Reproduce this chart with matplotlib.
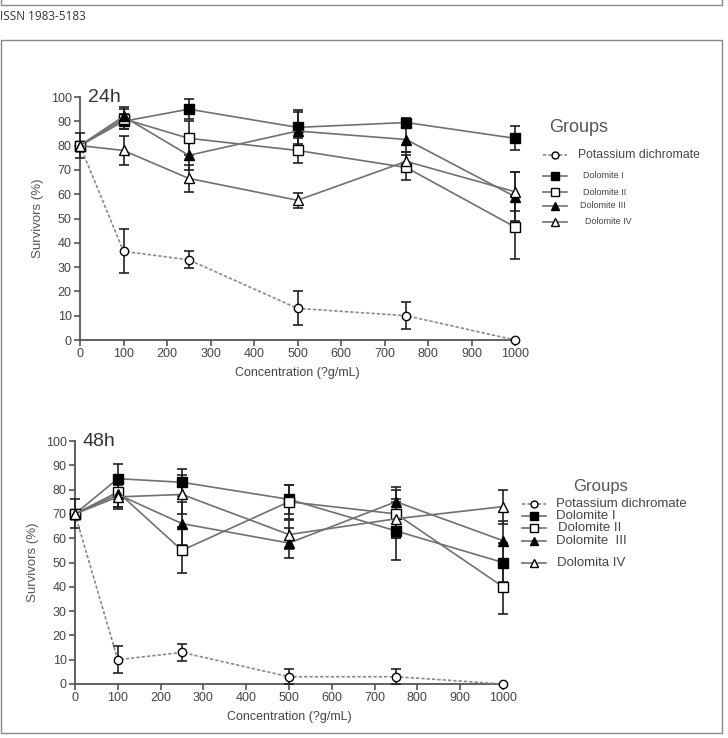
import matplotlib
matplotlib.use("Agg")
import matplotlib.pyplot as plt
from matplotlib.lines import Line2D
from matplotlib.patches import Rectangle

plt.rcParams["font.family"] = ["Liberation Sans", "DejaVu Sans"]

conc = [0, 100, 250, 500, 750, 1000]
groups_24h = ["Potassium dichromate", "Dolomite I", "Dolomite II", "Dolomite III", "Dolomite IV"]
groups_48h = ["Potassium dichromate", "Dolomite I", "Dolomite II", "Dolomite  III", "Dolomita IV"]

# 24h survivors (%) and error
pot_24 = [80, 36.5, 33, 13, 10, 0]
pot_24_err = [0, 9, 3.5, 7, 5.5, 0]
dol1_24 = [80, 90, 95, 87.5, 89.5, 83]
dol1_24_err = [0, 3, 4, 7, 2, 5]
dol2_24 = [80, 91, 83, 78, 71, 46.5]
dol2_24_err = [0, 4, 7, 5, 5, 13]
dol3_24 = [80, 92, 76, 86, 82.5, 59]
dol3_24_err = [0, 4, 6, 8, 5, 10]
dol4_24 = [80, 78, 66.5, 57.5, 73.5, 61]
dol4_24_err = [5, 6, 5.5, 3, 4, 8]

# 48h survivors (%) and error
pot_48 = [70, 10, 13, 3, 3, 0]
pot_48_err = [0, 5.5, 3.5, 3, 3, 0]
dol1_48 = [70, 84.5, 83, 76, 63, 50]
dol1_48_err = [0, 6, 5.5, 6, 12, 8]
dol2_48 = [70, 79, 55, 75, 70, 40]
dol2_48_err = [0, 6, 9.5, 7, 10, 11]
dol3_48 = [70, 78, 66, 58, 75, 59]
dol3_48_err = [0, 5, 9, 6, 6, 8]
dol4_48 = [70, 77, 78, 61.5, 68, 73]
dol4_48_err = [6, 5, 8, 6, 8, 7]

yticks = list(range(0, 101, 10))
xticks = list(range(0, 1001, 100))

LINE = "#707070"
INK = "#222222"
TXT = "#444444"

styles = [
    dict(marker="o", mfc="white", ls=(0, (2, 1.2)), color="#8a8a8a", ms=6),
    dict(marker="s", mfc="black", ls="-", color=LINE, ms=6.5),
    dict(marker="s", mfc="white", ls="-", color=LINE, ms=6.5),
    dict(marker="^", mfc="black", ls="-", color=LINE, ms=6.5),
    dict(marker="^", mfc="white", ls="-", color=LINE, ms=6.5),
]

fig = plt.figure(figsize=(7.28, 7.38), dpi=100)
W, H = 728, 738


def fx(px):
    return px / W


def fy(py):
    return 1 - py / H


# page frames
fig.add_artist(Rectangle((fx(0.5), fy(5)), fx(721.5), fy(-20) - fy(5),
                         transform=fig.transFigure, fill=False, ec="#888888", lw=1))
fig.add_artist(Rectangle((fx(0.5), fy(733)), fx(721.5), fy(40) - fy(733),
                         transform=fig.transFigure, fill=False, ec="#888888", lw=1))
fig.text(fx(0), fy(17), "ISSN 1983-5183", fontsize=8.5, family=["Open Sans", "DejaVu Sans"],
         color="#333333", va="center", ha="left")


def draw_panel(rect, title, series, errs, labels, leg):
    ax = fig.add_axes(rect)
    for s, e, st in zip(series, errs, styles):
        ax.errorbar(conc, s, yerr=e, color=st["color"], ls=st["ls"], lw=1.2,
                    marker=st["marker"], mfc=st["mfc"], mec="black", ms=st["ms"],
                    ecolor=INK, elinewidth=1.2, capsize=3.5, capthick=1.2,
                    clip_on=False, zorder=3)
    ax.set_xlim(0, 1000)
    ax.set_ylim(0, 100)
    ax.set_xticks(xticks)
    ax.set_yticks(yticks)
    for side in ["top", "right"]:
        ax.spines[side].set_visible(False)
    for side in ["left", "bottom"]:
        ax.spines[side].set_color("#555555")
        ax.spines[side].set_linewidth(1.3)
    ax.tick_params(direction="out", length=4, width=1.2, color="#555555",
                   labelsize=9, labelcolor=TXT, pad=2)
    ax.set_ylabel("Survivors (%)", fontsize=9.5, color="#555555", labelpad=5)
    ax.set_xlabel("Concentration (?g/mL)", fontsize=9, color=TXT, labelpad=5)
    ax.text(0.018, 1.0, title, transform=ax.transAxes, fontsize=14, color="#333333",
            ha="left", va="center")

    gx, gy, gsize, hx0, hx1, tx, tsize, rows = leg
    fig.text(fx(gx), fy(gy), "Groups", fontsize=gsize, color="#555555", va="center")
    for i, (lab, st, ry, txp) in enumerate(zip(labels, styles, rows, tx)):
        fig.add_artist(Line2D([fx(hx0), fx(hx1)], [fy(ry), fy(ry)],
                              transform=fig.transFigure, color=st["color"], ls=st["ls"],
                              lw=1.2))
        fig.add_artist(Line2D([fx((hx0 + hx1) / 2)], [fy(ry)], transform=fig.transFigure,
                              marker=st["marker"], mfc=st["mfc"], mec="black",
                              ms=st["ms"] - 1, ls="none"))
        fig.text(fx(txp), fy(ry), lab, fontsize=tsize[i], color="#444444", va="center")
    return ax


draw_panel([fx(80), fy(340), fx(515) - fx(80), fy(97) - fy(340)], "24h",
           [pot_24, dol1_24, dol2_24, dol3_24, dol4_24],
           [pot_24_err, dol1_24_err, dol2_24_err, dol3_24_err, dol4_24_err],
           groups_24h,
           (549, 128, 13, 543, 567, [578, 583, 583, 580, 585],
            [8.8, 6.5, 6.5, 6.5, 6.5], [155, 176, 192, 206, 222]))

draw_panel([fx(75), fy(684), fx(503) - fx(75), fy(441) - fy(684)], "48h",
           [pot_48, dol1_48, dol2_48, dol3_48, dol4_48],
           [pot_48_err, dol1_48_err, dol2_48_err, dol3_48_err, dol4_48_err],
           groups_48h,
           (573, 486, 12, 522, 546, [556, 556, 558, 556, 557],
            [9.5, 9.5, 9.5, 9.5, 9.5], [504, 516, 528, 541, 563]))

fig.savefig("out.png", dpi=100)
